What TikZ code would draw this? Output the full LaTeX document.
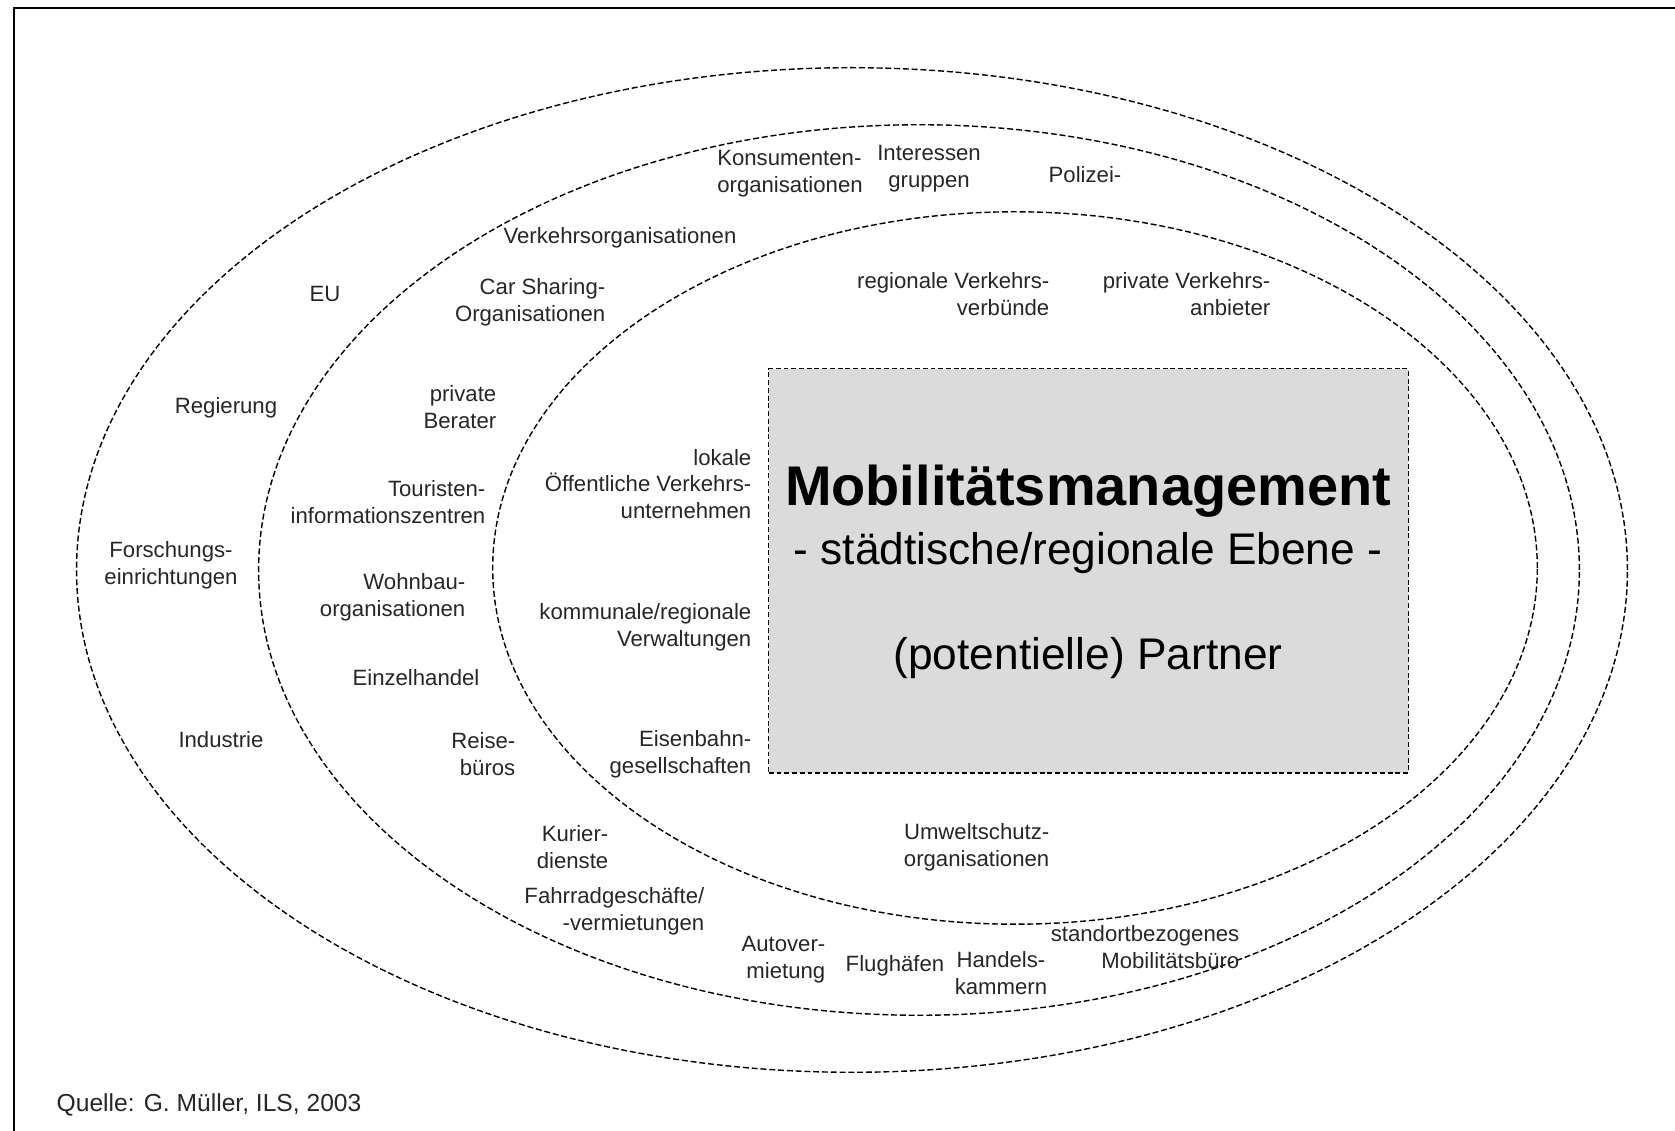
\documentclass[tikz,border=0pt]{standalone}
\usepackage{fontspec}
\setmainfont{Liberation Sans}
\usepackage{xcolor}

\definecolor{corefill}{gray}{0.86}

\begin{document}
\begin{tikzpicture}[
    x=0.01cm, y=-0.01cm,
    ringline/.style={draw=black, line width=0.4pt, dash pattern=on 1.7pt off 0.8pt},
    core/.style={rectangle, draw=black, fill=corefill, line width=0.35pt, dash pattern=on 1.4pt off 0.8pt, minimum width=6.39cm, minimum height=4.04cm, inner sep=0pt},
    partner/.style={inner sep=0pt, yshift=-0.3mm, text=black!85, font=\fontsize{6.3pt}{7.6pt}\selectfont},
    rpartner/.style={partner, align=right, anchor=east},
    cpartner/.style={partner, align=center},
    headline/.style={inner sep=0pt, anchor=base, font=\fontsize{15.9pt}{18pt}\selectfont\bfseries},
    subline/.style={inner sep=0pt, anchor=base, font=\fontsize{12.6pt}{15pt}\selectfont}
]
    \useasboundingbox (0,0) rectangle (1675,1131);

    % Frame
    \draw[line width=0.6pt] (14,1131) -- (14,8) -- (1675,8);

    % Rings
    \draw[ringline] (852,570) ellipse [x radius=7.75cm, y radius=5.02cm];
    \draw[ringline] (919,570) ellipse [x radius=6.60cm, y radius=4.45cm];
    \draw[ringline] (1015,568) ellipse [x radius=5.22cm, y radius=3.56cm];

    % Core box
    \node[core] (mm) at (1088.5,571) {};
    \node[headline] (mmtitle) at (1088,506) {Mobilitätsmanagement};
    \node[subline] (mmlevel) at (1088,565) {- städtische/regionale Ebene -};
    \node[subline] (mmpartner) at (1088,670) {(potentielle) Partner};

    % Inner ring
    \node[rpartner] (vvb) at (1050,291) {regionale Verkehrs-\\verbünde};
    \node[rpartner] (pva) at (1271,291) {private Verkehrs-\\anbieter};
    \node[rpartner] (oepnv) at (752,481) {lokale\\Öffentliche Verkehrs-\\unternehmen};
    \node[rpartner] (verw) at (752,624) {kommunale/regionale\\Verwaltungen};
    \node[rpartner] (bahn) at (752,751) {Eisenbahn-\\gesellschaften};
    \node[rpartner] (umwelt) at (1050,844) {Umweltschutz-\\organisationen};

    % Middle ring
    \node[partner, align=left] (konsum) at (790,171) {Konsumenten-\\organisationen};
    \node[cpartner] (interesse) at (929,166) {Interessen\\gruppen};
    \node[partner] (polizei) at (1085,172) {Polizei-};
    \node[partner] (vorg) at (620,235) {Verkehrsorganisationen};
    \node[rpartner] (carsharing) at (606,299) {Car Sharing-\\Organisationen};
    \node[rpartner] (berater) at (497,404) {private\\Berater};
    \node[rpartner] (touristen) at (486,499) {Touristen-\\informationszentren};
    \node[rpartner] (wohnbau) at (466,594) {Wohnbau-\\organisationen};
    \node[partner] (handel) at (416,675) {Einzelhandel};
    \node[rpartner] (reise) at (516,751) {Reise-\\büros};
    \node[rpartner] (kurier) at (609,844) {Kurier-\\dienste};
    \node[rpartner] (fahrrad) at (705,908) {Fahrradgeschäfte/\\-vermietungen};
    \node[rpartner] (autover) at (826,957) {Autover-\\mietung};
    \node[partner] (flughafen) at (895,963) {Flughäfen};
    \node[cpartner] (kammern) at (1001,970) {Handels-\\kammern};
    \node[rpartner] (buero) at (1240,944) {standortbezogenes\\Mobilitätsbüro};

    % Outer ring
    \node[partner] (eu) at (325,291) {EU};
    \node[partner] (regierung) at (226,405) {Regierung};
    \node[cpartner] (forschung) at (171,562) {Forschungs-\\einrichtungen};
    \node[partner] (industrie) at (221,737) {Industrie};

    % Source
    \node[partner, anchor=west, font=\fontsize{7pt}{8pt}\selectfont] (quelle) at (56,1102) {Quelle: G. Müller, ILS, 2003};
\end{tikzpicture}
\end{document}
